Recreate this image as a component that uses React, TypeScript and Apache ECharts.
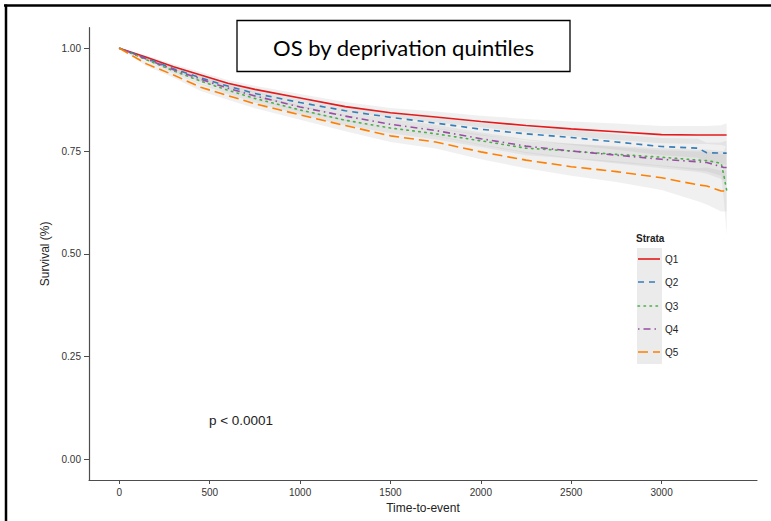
import React, { useEffect, useRef } from "react";
import * as echarts from "echarts";

const times = [0, 150, 300, 450, 600, 750, 1000, 1250, 1500, 1750, 2000, 2250, 2500, 2750, 3000, 3200, 3250, 3330, 3345, 3360];

const strata = ["Q1", "Q2", "Q3", "Q4", "Q5"];
const q1 = [1, 0.978, 0.955, 0.935, 0.915, 0.9, 0.879, 0.858, 0.843, 0.833, 0.822, 0.812, 0.804, 0.797, 0.79, 0.789, 0.789, 0.789, 0.789, 0.789];
const q2 = [1, 0.975, 0.95, 0.928, 0.908, 0.89, 0.868, 0.848, 0.832, 0.818, 0.803, 0.792, 0.783, 0.772, 0.761, 0.757, 0.746, 0.745, 0.745, 0.745];
const q3 = [1, 0.972, 0.945, 0.92, 0.898, 0.878, 0.85, 0.825, 0.806, 0.792, 0.775, 0.757, 0.75, 0.742, 0.735, 0.728, 0.727, 0.72, 0.69, 0.655];
const q4 = [1, 0.974, 0.948, 0.925, 0.903, 0.884, 0.857, 0.835, 0.815, 0.8, 0.78, 0.762, 0.75, 0.74, 0.73, 0.724, 0.722, 0.712, 0.71, 0.71];
const q5 = [1, 0.962, 0.935, 0.905, 0.885, 0.865, 0.838, 0.812, 0.787, 0.772, 0.748, 0.728, 0.712, 0.7, 0.685, 0.668, 0.665, 0.653, 0.653, 0.653];

// half-widths of the confidence bands, read from the grey ribbons
const ci1 = [0, 0.004, 0.006, 0.007, 0.008, 0.009, 0.01, 0.011, 0.012, 0.013, 0.014, 0.016, 0.018, 0.02, 0.021, 0.022, 0.022, 0.024, 0.026, 0.028];
const ci2 = [0, 0.004, 0.006, 0.008, 0.009, 0.01, 0.011, 0.012, 0.013, 0.014, 0.015, 0.016, 0.018, 0.019, 0.021, 0.023, 0.024, 0.026, 0.028, 0.03];
const ci3 = [0, 0.004, 0.006, 0.008, 0.009, 0.01, 0.011, 0.012, 0.013, 0.014, 0.015, 0.017, 0.018, 0.02, 0.022, 0.025, 0.027, 0.03, 0.06, 0.11];
const ci4 = [0, 0.004, 0.006, 0.008, 0.009, 0.01, 0.011, 0.012, 0.013, 0.014, 0.015, 0.017, 0.018, 0.02, 0.022, 0.025, 0.027, 0.03, 0.032, 0.035];
const ci5 = [0, 0.005, 0.007, 0.009, 0.01, 0.011, 0.012, 0.014, 0.015, 0.016, 0.018, 0.02, 0.022, 0.025, 0.03, 0.04, 0.045, 0.05, 0.05, 0.05];

const xTicks = [0, 500, 1000, 1500, 2000, 2500, 3000];
const yTicks = [0, 0.25, 0.5, 0.75, 1];

const colors = ["#E41A1C", "#377EB8", "#4DAF4A", "#984EA3", "#FF7F00"];
const dashes: (number[] | null)[] = [null, [6, 5], [1.5, 4.5], [1.5, 4, 7, 4], [10, 5]];

const survs = [q1, q2, q3, q4, q5];
const cis = [ci1, ci2, ci3, ci4, ci5];

const FONT = "'Liberation Sans', Arial, sans-serif";

export default function App() {
  const ref = useRef<HTMLDivElement>(null);
  useEffect(() => {
    if (!ref.current) return;
    const chart = echarts.init(ref.current, null, { renderer: "svg" });

    const bandSeries = survs.map((s, k) => ({
      type: "custom",
      name: "band" + k,
      silent: true,
      clip: true,
      z: 1,
      data: [[0, 1]],
      renderItem: (params: any, api: any) => {
        const pts: number[][] = [];
        for (let i = 0; i < times.length; i++) pts.push(api.coord([times[i], s[i] + cis[k][i]]));
        for (let i = times.length - 1; i >= 0; i--) pts.push(api.coord([times[i], s[i] - cis[k][i]]));
        return {
          type: "polygon",
          shape: { points: pts },
          style: { fill: "rgba(165,165,165,0.17)", stroke: "none" },
        };
      },
    }));

    const lineSeries = survs.map((s, k) => ({
      type: "line",
      name: strata[k],
      data: times.map((t, i) => [t, s[i]]),
      showSymbol: false,
      z: 3,
      lineStyle: {
        color: colors[k],
        width: 1.6,
        type: dashes[k] ? dashes[k] : "solid",
        cap: k === 2 ? "round" : "butt",
      },
    }));

    const legendX = 637;
    const legendRows = [259, 282, 306, 329, 352];
    const legendGraphics: any[] = [
      { type: "rect", shape: { x: legendX, y: 248, width: 25, height: 116 }, style: { fill: "#ebebeb" } },
      {
        type: "text",
        x: legendX - 1,
        y: 238,
        style: { text: "Strata", font: "bold 10px " + FONT, fill: "#222", verticalAlign: "middle" },
      },
    ];
    strata.forEach((q, k) => {
      legendGraphics.push({
        type: "line",
        shape: { x1: legendX + 1, y1: legendRows[k], x2: legendX + 23, y2: legendRows[k] },
        style: {
          stroke: colors[k],
          lineWidth: 1.6,
          lineDash: dashes[k] ? dashes[k] : null,
          lineCap: k === 2 ? "round" : "butt",
        },
      });
      legendGraphics.push({
        type: "text",
        x: legendX + 28,
        y: legendRows[k],
        style: { text: q, font: "10px " + FONT, fill: "#222", verticalAlign: "middle" },
      });
    });

    const option: any = {
      animation: false,
      backgroundColor: "#ffffff",
      grid: { left: 89, right: 14, top: 27.7, bottom: 41, containLabel: false },
      xAxis: {
        type: "value",
        min: -168,
        max: 3528,
        name: "Time-to-event",
        nameLocation: "middle",
        nameGap: 22,
        nameTextStyle: { fontSize: 12, color: "#222", fontFamily: FONT },
        axisLine: { show: true, onZero: false, lineStyle: { color: "#4d4d4d", width: 1.2 } },
        axisTick: { show: true, length: 4, lineStyle: { color: "#4d4d4d" }, customValues: xTicks },
        axisLabel: {
          customValues: xTicks,
          fontSize: 10,
          color: "#333",
          margin: 7,
          fontFamily: FONT,
          formatter: (v: number) => String(v),
        },
        splitLine: { show: false },
      },
      yAxis: {
        type: "value",
        min: -0.05,
        max: 1.05,
        name: "Survival (%)",
        nameLocation: "middle",
        nameGap: 37,
        nameTextStyle: { fontSize: 12, color: "#222", fontFamily: FONT },
        axisLine: { show: true, onZero: false, lineStyle: { color: "#4d4d4d", width: 1.2 } },
        axisTick: { show: true, length: 5, lineStyle: { color: "#4d4d4d" }, customValues: yTicks },
        axisLabel: {
          customValues: yTicks,
          fontSize: 10,
          color: "#333",
          margin: 8,
          fontFamily: FONT,
          formatter: (v: number) => v.toFixed(2),
        },
        splitLine: { show: false },
      },
      series: [...bandSeries, ...lineSeries],
      graphic: [
        { type: "line", shape: { x1: 4, y1: 5.5, x2: 771, y2: 5.5 }, style: { stroke: "#000", lineWidth: 2.5 } },
        { type: "line", shape: { x1: 6, y1: 4.5, x2: 6, y2: 521 }, style: { stroke: "#000", lineWidth: 2.5 } },
        {
          type: "rect",
          shape: { x: 237, y: 20.5, width: 333, height: 51 },
          style: { fill: "#fff", stroke: "#000", lineWidth: 1.3 },
          z: 10,
        },
        {
          type: "text",
          x: 403.5,
          y: 47,
          z: 11,
          style: {
            text: "OS by deprivation quintiles",
            font: "22px Lato, 'Open Sans', sans-serif",
            fill: "#000",
            align: "center",
            verticalAlign: "middle",
          },
        },
        {
          type: "text",
          x: 241,
          y: 420,
          style: {
            text: "p < 0.0001",
            font: "13.5px " + FONT,
            fill: "#222",
            align: "center",
            verticalAlign: "middle",
          },
        },
        ...legendGraphics,
      ],
    };
    chart.setOption(option);
    return () => chart.dispose();
  }, []);
  return (
    <div
      ref={ref}
      style={{ position: "absolute", left: 0, top: 0, width: 771, height: 521, background: "#fff" }}
    />
  );
}
